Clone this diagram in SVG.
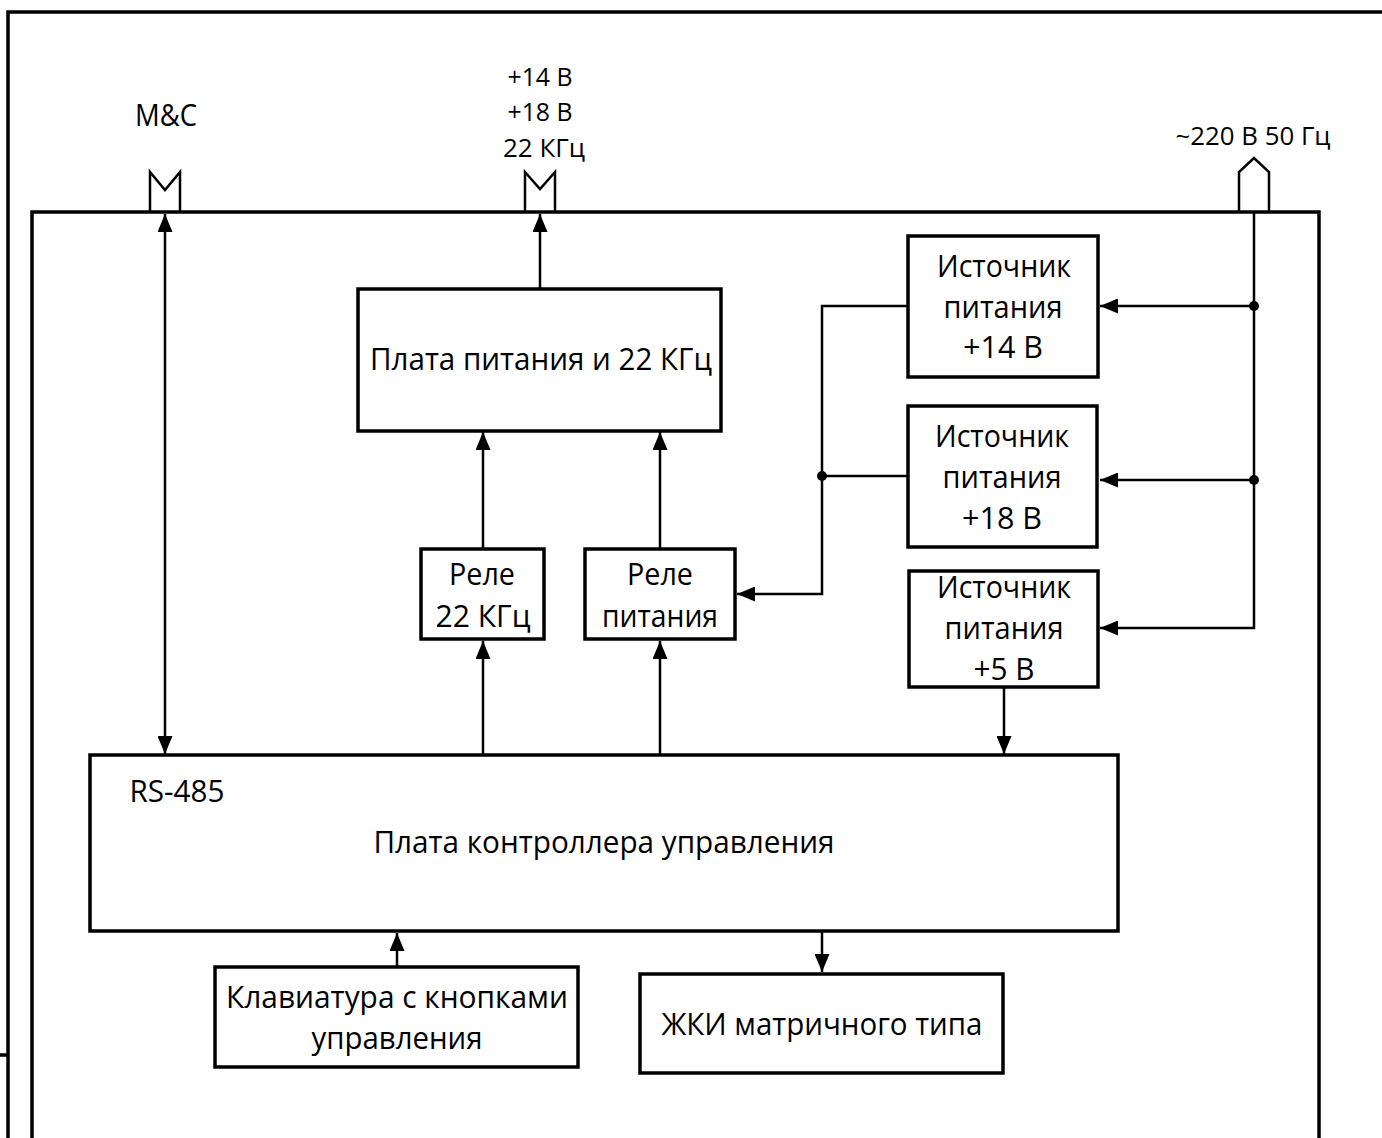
<svg xmlns="http://www.w3.org/2000/svg" width="1382" height="1138" viewBox="0 0 1382 1138">
<style>
.frame{fill:none;stroke:#000;stroke-width:3.5}
.box{fill:#fff;stroke:#000;stroke-width:3.5}
.ln{fill:none;stroke:#000;stroke-width:2.5}
.t{font-family:"Open Sans","Noto Sans","DejaVu Sans",sans-serif;font-size:31.5px;fill:#000;text-anchor:middle}
.s{font-size:25px}
</style>
<defs>
<marker id="ah" viewBox="0 0 18 15" refX="18" refY="7.5" markerWidth="18" markerHeight="15" markerUnits="userSpaceOnUse" orient="auto-start-reverse">
<path d="M0,0 L18,7.5 L0,15 Z" fill="#000"/>
</marker>
</defs>
<rect width="1382" height="1138" fill="#fff"/>
<g id="frame">
<path class="frame" d="M8,1138 V12 H1382"/>
<path class="frame" d="M0,1055 H8"/>
<path class="frame" d="M32,1138 V212 H1319 V1138"/>
</g>
<g id="ports">
<path class="ln" d="M150,212 V172 L165,190 L180,172 V212"/>
<path class="ln" d="M525,212 V172 L540,189 L555,172 V212"/>
<path class="ln" d="M1239,212 V172 L1254,158 L1269,172 V212"/>
<text class="t" x="166" y="126" textLength="62" lengthAdjust="spacingAndGlyphs">M&amp;C</text>
<text class="t s" x="540" y="86" textLength="65" lengthAdjust="spacingAndGlyphs">+14 В</text>
<text class="t s" x="540" y="121" textLength="65" lengthAdjust="spacingAndGlyphs">+18 В</text>
<text class="t s" x="544" y="157" textLength="82" lengthAdjust="spacingAndGlyphs">22 КГц</text>
<text class="t s" x="1253" y="145" textLength="155" lengthAdjust="spacingAndGlyphs">~220 В 50 Гц</text>
</g>
<g id="connectors">
<path class="ln" d="M165,214 V754" marker-start="url(#ah)" marker-end="url(#ah)"/>
<path class="ln" d="M540,289 V214" marker-end="url(#ah)"/>
<path class="ln" d="M483,549 V432" marker-end="url(#ah)"/>
<path class="ln" d="M660,549 V432" marker-end="url(#ah)"/>
<path class="ln" d="M483,756 V641" marker-end="url(#ah)"/>
<path class="ln" d="M660,756 V641" marker-end="url(#ah)"/>
<path class="ln" d="M1254,212 V628 H1100" marker-end="url(#ah)"/>
<path class="ln" d="M1254,306 H1100" marker-end="url(#ah)"/>
<path class="ln" d="M1254,480 H1100" marker-end="url(#ah)"/>
<path class="ln" d="M908,306 H822 V594 H737" marker-end="url(#ah)"/>
<path class="ln" d="M822,476 H908"/>
<path class="ln" d="M1004,687 V754" marker-end="url(#ah)"/>
<path class="ln" d="M397,967 V933" marker-end="url(#ah)"/>
<path class="ln" d="M822,931 V972" marker-end="url(#ah)"/>
<circle cx="1254" cy="306" r="5"/>
<circle cx="1254" cy="480" r="5"/>
<circle cx="822" cy="476" r="5"/>
</g>
<g id="power-board">
<rect class="box" x="358" y="289" width="363" height="142"/>
<text class="t" x="541" y="370" textLength="342" lengthAdjust="spacingAndGlyphs">Плата питания и 22 КГц</text>
</g>
<g id="relay-22">
<rect class="box" x="421" y="549" width="123" height="90"/>
<text class="t" x="482" y="585" textLength="66" lengthAdjust="spacingAndGlyphs">Реле</text>
<text class="t" x="483" y="627" textLength="95" lengthAdjust="spacingAndGlyphs">22 КГц</text>
</g>
<g id="relay-power">
<rect class="box" x="585" y="549" width="150" height="90"/>
<text class="t" x="660" y="585" textLength="66" lengthAdjust="spacingAndGlyphs">Реле</text>
<text class="t" x="660" y="627" textLength="116" lengthAdjust="spacingAndGlyphs">питания</text>
</g>
<g id="psu-14">
<rect class="box" x="908" y="236" width="190" height="141"/>
<text class="t" x="1004" y="277" textLength="134" lengthAdjust="spacingAndGlyphs">Источник</text>
<text class="t" x="1003" y="318" textLength="119" lengthAdjust="spacingAndGlyphs">питания</text>
<text class="t" x="1003" y="358" textLength="80" lengthAdjust="spacingAndGlyphs">+14 В</text>
</g>
<g id="psu-18">
<rect class="box" x="908" y="406" width="189" height="141"/>
<text class="t" x="1002" y="447" textLength="134" lengthAdjust="spacingAndGlyphs">Источник</text>
<text class="t" x="1002" y="488" textLength="119" lengthAdjust="spacingAndGlyphs">питания</text>
<text class="t" x="1002" y="529" textLength="80" lengthAdjust="spacingAndGlyphs">+18 В</text>
</g>
<g id="psu-5">
<rect class="box" x="909" y="571" width="189" height="116"/>
<text class="t" x="1004" y="598" textLength="134" lengthAdjust="spacingAndGlyphs">Источник</text>
<text class="t" x="1004" y="639" textLength="119" lengthAdjust="spacingAndGlyphs">питания</text>
<text class="t" x="1004" y="680" textLength="61" lengthAdjust="spacingAndGlyphs">+5 В</text>
</g>
<g id="controller">
<rect class="box" x="90" y="755" width="1028" height="176"/>
<text class="t" x="177" y="802" textLength="95" lengthAdjust="spacingAndGlyphs">RS-485</text>
<text class="t" x="604" y="853" textLength="461" lengthAdjust="spacingAndGlyphs">Плата контроллера управления</text>
</g>
<g id="keyboard">
<rect class="box" x="215" y="967" width="363" height="100"/>
<text class="t" x="397" y="1008" textLength="342" lengthAdjust="spacingAndGlyphs">Клавиатура с кнопками</text>
<text class="t" x="397" y="1049" textLength="171" lengthAdjust="spacingAndGlyphs">управления</text>
</g>
<g id="lcd">
<rect class="box" x="640" y="974" width="363" height="99"/>
<text class="t" x="822" y="1035" textLength="321" lengthAdjust="spacingAndGlyphs">ЖКИ матричного типа</text>
</g>
</svg>
